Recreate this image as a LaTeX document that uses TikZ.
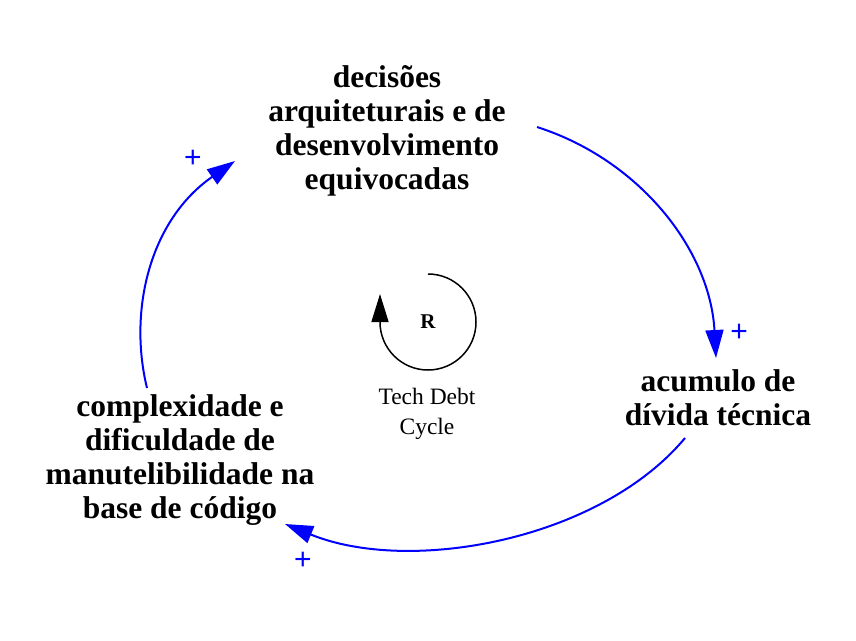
\documentclass[tikz,border=0pt]{standalone}
\usepackage{fontspec}
\setmainfont{Liberation Serif}
\newfontfamily\plusfont{Liberation Sans}
\usetikzlibrary{arrows.meta,calc}

\begin{document}
\begin{tikzpicture}[
    x=1pt, y=-1pt,
    varnode/.style={font=\fontsize{31.5}{34}\selectfont\bfseries, align=center, inner sep=0pt},
    link/.style={draw=blue, line width=2pt, -{Triangle[length=28pt,width=18pt]}},
    polarity/.style={text=blue, font=\fontsize{30}{30}\plusfont, inner sep=0pt},
    looplabel/.style={font=\fontsize{23.5}{30}\selectfont, align=center, inner sep=0pt}
]
    \useasboundingbox (0,0) rectangle (856,640);

    \node[varnode] (decisions) at (387,131) {decisões\\arquiteturais e de\\desenvolvimento\\equivocadas};
    \node[varnode] (debt) at (718,398) {acumulo de\\dívida técnica};
    \node[varnode] (complexity) at (180,460) {complexidade e\\dificuldade de\\manutelibilidade na\\base de código};

    \draw[link] ([shift={(150,-4)}]decisions.center) .. controls +(103,33) and +(-6,-108) .. ([shift={(-2,-40)}]debt.center);
    \draw[link] ([shift={(-33,40)}]debt.center) .. controls +(-85,102) and +(125,51) .. ([shift={(105,64)}]complexity.center);
    \draw[link] ([shift={(-33,-72)}]complexity.center) .. controls +(-19,-78) and +(-85,59) .. ([shift={(-152,30)}]decisions.center);

    \node[polarity] (plusA) at (739,333) {+};
    \node[polarity] (plusB) at (303,561) {+};
    \node[polarity] (plusC) at (193,159) {+};

    % reinforcing loop marker
    \node[font=\fontsize{21}{21}\selectfont\bfseries, inner sep=0pt] (loopR) at (428,322) {R};
    \draw[line width=1.5pt, -{Triangle[length=28pt,width=17pt]}] ([yshift=48pt]loopR.center) arc[start angle=-90, end angle=180, radius=48] -- ++(0,-28);
    \node[looplabel] (cycle) at (427,414) {Tech Debt\\Cycle};
\end{tikzpicture}
\end{document}
